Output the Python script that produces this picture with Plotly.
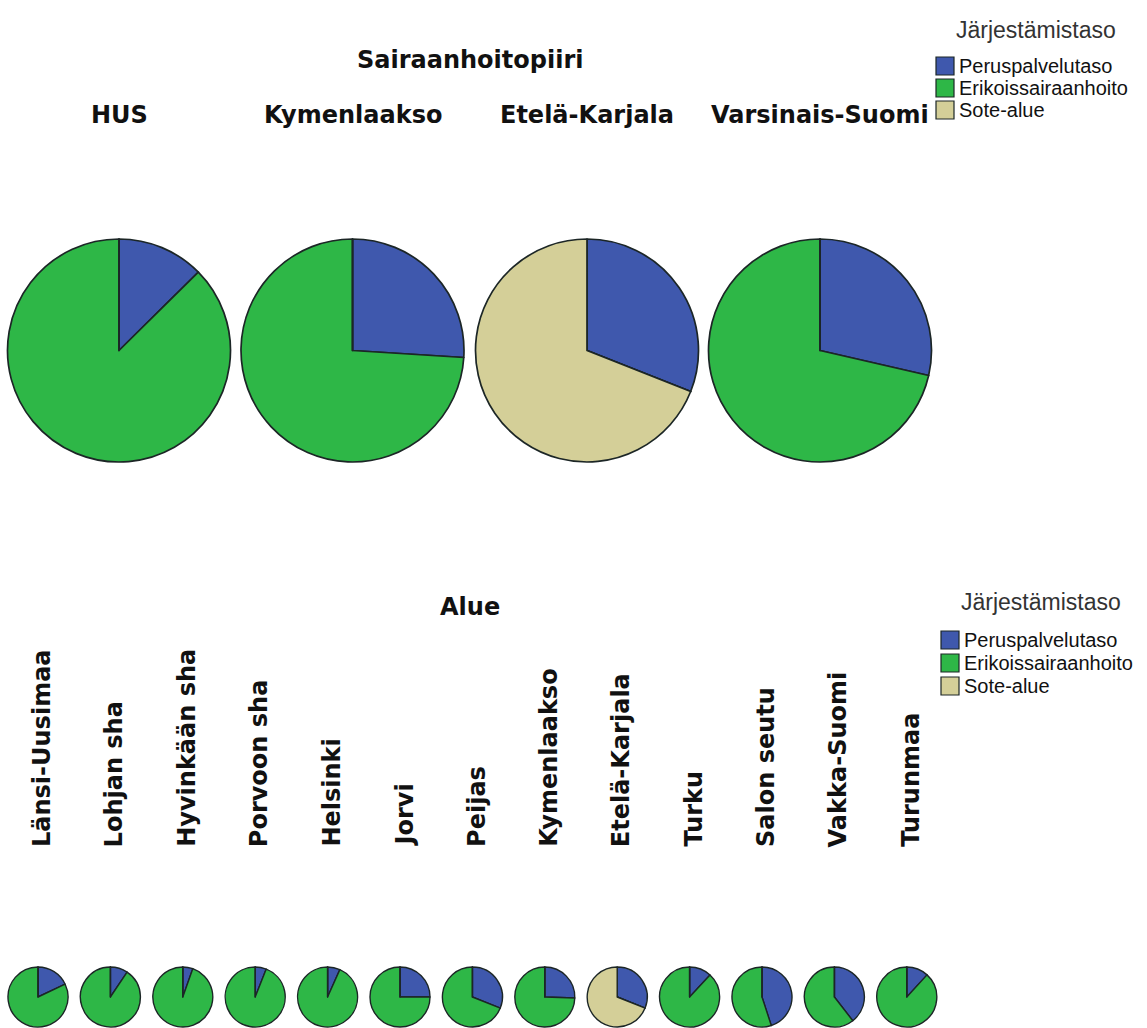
import plotly.graph_objects as go

W, H = 1147, 1028

levels = ["Peruspalvelutaso", "Erikoissairaanhoito", "Sote-alue"]
colors = ["#3F58AD", "#2EB747", "#D4CF98"]

districts = ["HUS", "Kymenlaakso", "Etelä-Karjala", "Varsinais-Suomi"]
district_perus = [12.6, 26.0, 31.0, 28.6]
district_erik = [87.4, 74.0, 0.0, 71.4]
district_sote = [0.0, 0.0, 69.0, 0.0]

areas = ["Länsi-Uusimaa", "Lohjan sha", "Hyvinkään sha", "Porvoon sha", "Helsinki",
         "Jorvi", "Peijas", "Kymenlaakso", "Etelä-Karjala", "Turku", "Salon seutu",
         "Vakka-Suomi", "Turunmaa"]
area_perus = [18.0, 9.4, 5.4, 6.0, 6.7, 25.0, 31.0, 25.5, 31.0, 11.9, 45.0, 39.5, 11.8]
area_erik = [82.0, 90.6, 94.6, 94.0, 93.3, 75.0, 69.0, 74.5, 0.0, 88.1, 55.0, 60.5, 88.2]
area_sote = [0.0, 0.0, 0.0, 0.0, 0.0, 0.0, 0.0, 0.0, 69.0, 0.0, 0.0, 0.0, 0.0]

fig = go.Figure()

def add_pie(vals, cx, cy, r, lw):
    fig.add_trace(go.Pie(
        labels=levels, values=vals, sort=False, direction="clockwise", rotation=0,
        marker=dict(colors=colors, line=dict(color="#1c2626", width=lw)),
        textinfo="none", hoverinfo="label+percent", showlegend=False,
        domain=dict(x=[(cx - r) / W, (cx + r) / W], y=[1 - (cy + r) / H, 1 - (cy - r) / H]),
    ))

# top row
top_cx = [119, 352.5, 587, 820]
for i, d in enumerate(districts):
    add_pie([district_perus[i], district_erik[i], district_sote[i]], top_cx[i], 350.5, 111.5, 1.7)

# bottom row
for i, a in enumerate(areas):
    add_pie([area_perus[i], area_erik[i], area_sote[i]], 38 + 72.4 * i, 997, 30, 1.4)

ann = []
bold = dict(family="DejaVu Sans", size=24, color="#111111")
ann.append(dict(x=470 / W, y=1 - 60 / H, text="<b>Sairaanhoitopiiri</b>", font=bold))
for i, d in enumerate(districts):
    ann.append(dict(x=top_cx[i] / W, y=1 - 115 / H, text="<b>" + d + "</b>", font=bold))
ann.append(dict(x=470 / W, y=1 - 607 / H, text="<b>Alue</b>", font=bold))
for i, a in enumerate(areas):
    ann.append(dict(x=(38 + 72.4 * i + 4) / W, y=1 - 849 / H, text="<b>" + a + "</b>",
                    textangle=-90, yanchor="bottom", font=bold))

shapes = []
leg_font = dict(family="Liberation Sans", size=20, color="#111111")
title_font = dict(family="Liberation Sans", size=23, color="#333333")

def legend(title_x, title_y, sq_x, item_ys):
    ann.append(dict(x=title_x / W, y=1 - title_y / H, text="Järjestämistaso", font=title_font))
    for lab, col, yy in zip(levels, colors, item_ys):
        shapes.append(dict(type="rect", xref="paper", yref="paper",
                           x0=sq_x / W, x1=(sq_x + 18) / W,
                           y0=1 - (yy + 9) / H, y1=1 - (yy - 9) / H,
                           fillcolor=col, line=dict(color="#1c2626", width=1.2)))
        ann.append(dict(x=(sq_x + 21) / W, y=1 - yy / H, text=lab, xanchor="left", font=leg_font))

legend(1036, 30, 936, [66, 88, 110])
legend(1041, 602, 941, [640, 663, 686])

for a in ann:
    a.setdefault("xref", "paper")
    a.setdefault("yref", "paper")
    a.setdefault("showarrow", False)
    a.setdefault("xanchor", "center")
    a.setdefault("yanchor", "middle")

fig.update_layout(
    width=W, height=H, autosize=False,
    margin=dict(l=0, r=0, t=0, b=0),
    paper_bgcolor="white", plot_bgcolor="white",
    annotations=ann, shapes=shapes,
)

fig.write_html("out.html")
